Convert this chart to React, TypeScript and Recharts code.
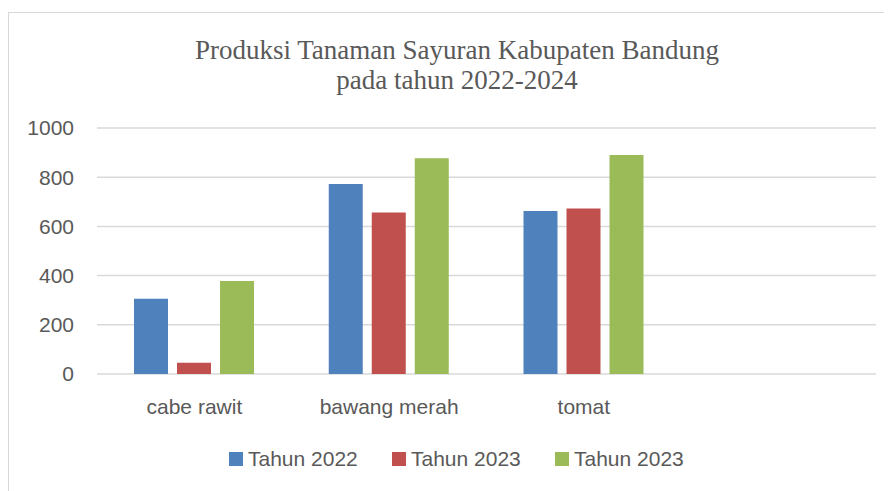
import { BarChart, Bar, XAxis, YAxis, CartesianGrid, Legend } from "recharts";

const categories = ["cabe rawit", "bawang merah", "tomat", ""];
const tahun2022 = [306, 772, 663, null];
const tahun2023 = [46, 656, 673, null];
const tahun2023b = [378, 877, 890, null];
const yTicks = [0, 200, 400, 600, 800, 1000];

const series = [
  { key: "a", name: "Tahun 2022", color: "#4f81bd" },
  { key: "b", name: "Tahun 2023", color: "#c0504d" },
  { key: "c", name: "Tahun 2023", color: "#9bbb59" },
];

const data = categories.map((name, i) => ({
  name,
  a: tahun2022[i],
  b: tahun2023[i],
  c: tahun2023b[i],
}));

const textColor = "#595959";
const sans = "'Liberation Sans', Arial, sans-serif";

function LegendRow() {
  return (
    <div style={{ display: "flex", fontFamily: sans, fontSize: 21, color: textColor, lineHeight: "24px" }}>
      {series.map((s, i) => (
        <div key={i} style={{ display: "flex", alignItems: "center", width: 163 }}>
          <span style={{ width: 14, height: 14, background: s.color, marginRight: 5 }} />
          <span>{s.name}</span>
        </div>
      ))}
    </div>
  );
}

export default function App() {
  return (
    <div
      style={{
        position: "relative",
        marginTop: 4,
        width: 900,
        height: 490,
        border: "1px solid #d9d9d9",
        boxSizing: "border-box",
        background: "#fff",
      }}
    >
      <div
        style={{
          position: "absolute",
          left: 0,
          top: 22,
          width: 896,
          textAlign: "center",
          fontFamily: "'Liberation Serif', 'Times New Roman', serif",
          fontSize: 27,
          lineHeight: "30px",
          color: textColor,
        }}
      >
        Produksi Tanaman Sayuran Kabupaten Bandung
        <br />
        pada tahun 2022-2024
      </div>
      <BarChart
        width={883}
        height={478}
        data={data}
        margin={{ top: 115, right: 16, bottom: 63, left: 28 }}
        barCategoryGap={37}
        barGap={9}
      >
        <CartesianGrid vertical={false} stroke="#d9d9d9" strokeWidth={1.5} />
        <XAxis
          dataKey="name"
          axisLine={false}
          tickLine={false}
          tickSize={0}
          tickMargin={25}
          interval={0}
          tick={{ fill: textColor, fontSize: 21, fontFamily: sans }}
        />
        <YAxis
          width={60}
          domain={[0, 1000]}
          ticks={yTicks}
          axisLine={false}
          tickLine={false}
          tickSize={0}
          tickMargin={23}
          tick={{ fill: textColor, fontSize: 21, fontFamily: sans }}
        />
        <Legend
          content={() => <LegendRow />}
          wrapperStyle={{ position: "absolute", top: 434, left: 220, width: "auto" }}
        />
        {series.map((s) => (
          <Bar key={s.key} dataKey={s.key} name={s.name} fill={s.color} isAnimationActive={false} />
        ))}
      </BarChart>
    </div>
  );
}
